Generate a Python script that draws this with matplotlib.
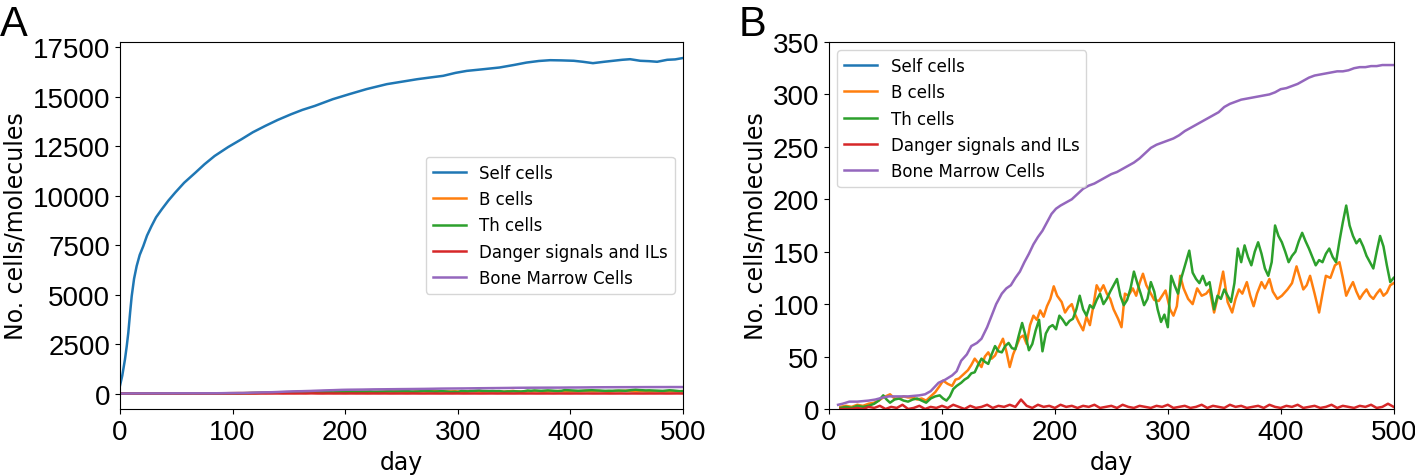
import matplotlib
matplotlib.use('Agg')
import matplotlib.pyplot as plt

# Self cells (only really visible in panel A)
self_days = [0, 2, 4.4, 6, 7.4, 9, 10.4, 12.5, 14.8, 17.5, 20.7, 24, 28, 32, 37, 43, 49,
             57, 67, 75, 84, 96, 108, 118, 129, 140, 152, 162, 173, 189, 204, 219, 237,
             250, 264, 276, 287, 298, 308, 322, 337, 350, 361, 372, 382, 392, 403, 411,
             420, 430, 438, 446, 453, 462, 470, 477, 486, 493, 500]
self_cells = [400, 900, 1720, 2400, 3080, 4100, 4920, 5800, 6440, 7000, 7450, 7980, 8460,
              8900, 9300, 9750, 10150, 10650, 11160, 11580, 12000, 12450, 12850, 13200,
              13520, 13820, 14110, 14330, 14530, 14870, 15130, 15380, 15630, 15750, 15880,
              15970, 16050, 16200, 16300, 16380, 16470, 16600, 16720, 16800, 16840, 16830,
              16810, 16760, 16690, 16760, 16810, 16860, 16890, 16810, 16790, 16760, 16860,
              16880, 16950]

b_days = [10, 15, 20, 25, 30, 35, 40, 44, 48, 54, 58, 62, 66, 70, 74, 78, 82, 86, 90, 94,
          98, 101, 105, 109, 112, 115, 119, 123, 126, 129, 132, 135, 138, 141, 144, 147,
          150, 154, 157, 160, 163, 166, 169, 172, 175, 178, 181, 184, 187, 190, 193, 196,
          199, 202, 206, 209, 212, 215, 218, 221, 225, 228, 231, 234, 237, 240, 243, 246,
          249, 252, 256, 259, 262, 265, 269, 272, 275, 278, 281, 285, 288, 292, 295, 298,
          302, 305, 308, 311, 314, 318, 322, 326, 330, 334, 337, 341, 345, 349, 353, 357,
          360, 363, 366, 370, 373, 376, 379, 383, 386, 390, 393, 397, 401, 406, 410, 414,
          417, 420, 423, 426, 430, 434, 437, 440, 444, 448, 452, 455, 458, 461, 464, 467,
          470, 473, 476, 479, 482, 485, 488, 491, 494, 497, 500]
b_cells = [2, 3, 2, 4, 3, 5, 6, 8, 11, 14, 10, 10, 12, 11, 11, 9, 10, 8, 12, 16,
           22, 27, 24, 22, 28, 29, 33, 37, 42, 48, 44, 40, 50, 54, 48, 51,
           58, 67, 55, 40, 52, 60, 68, 70, 62, 80, 89, 85, 94, 88, 98, 105,
           117, 108, 102, 92, 97, 100, 90, 83, 75, 88, 80, 98, 118, 112, 118, 110,
           105, 95, 86, 78, 110, 108, 115, 108, 120, 129, 118, 110, 104, 103, 108, 113,
           95, 89, 98, 127, 115, 105, 100, 115, 108, 110, 114, 92, 110, 131, 102, 92,
           105, 114, 110, 121, 108, 98, 110, 121, 115, 124, 112, 105, 108, 114, 120, 136,
           125, 114, 118, 127, 110, 92, 110, 127, 125, 137, 140, 125, 108, 115, 121, 112,
           105, 110, 114, 108, 105, 110, 114, 108, 111, 118, 120]

th_days = [10, 15, 20, 25, 30, 35, 40, 44, 48, 51, 54, 58, 62, 66, 70, 74, 78, 82, 86, 90,
           94, 98, 101, 104, 107, 110, 113, 117, 120, 123, 126, 129, 132, 135, 138, 141,
           144, 147, 150, 153, 156, 159, 162, 165, 168, 171, 174, 177, 180, 183, 186, 189,
           192, 195, 198, 201, 204, 207, 210, 213, 216, 219, 222, 225, 228, 231, 234, 237,
           240, 243, 246, 249, 252, 255, 258, 261, 264, 267, 270, 273, 276, 279, 282, 285,
           288, 291, 294, 297, 300, 303, 306, 309, 312, 316, 319, 322, 325, 328, 331, 334,
           337, 341, 344, 347, 350, 353, 356, 359, 362, 365, 368, 371, 374, 377, 380, 383,
           386, 389, 392, 395, 398, 401, 404, 407, 410, 413, 416, 419, 422, 425, 428, 431,
           434, 437, 440, 443, 446, 449, 452, 455, 458, 461, 464, 467, 470, 473, 476, 479,
           482, 485, 488, 491, 494, 497, 500]
th_cells = [1, 2, 1, 3, 2, 3, 5, 8, 13, 9, 6, 9, 10, 8, 7, 9, 10, 8, 6, 10,
            12, 13, 10, 8, 12, 19, 22, 25, 28, 30, 34, 35, 42, 48, 45, 43,
            52, 60, 55, 54, 60, 63, 58, 57, 70, 82, 70, 56, 62, 75, 85, 55,
            72, 78, 80, 76, 89, 85, 80, 84, 86, 95, 108, 95, 89, 99, 96, 104,
            110, 100, 105, 112, 118, 124, 108, 99, 104, 115, 131, 120, 110, 99, 105, 121,
            112, 95, 83, 90, 78, 127, 118, 110, 125, 140, 151, 130, 124, 120, 127, 118,
            121, 95, 108, 105, 114, 108, 102, 120, 153, 140, 156, 145, 137, 150, 159, 148,
            134, 127, 140, 175, 165, 159, 150, 140, 146, 150, 160, 168, 160, 153, 145, 137,
            142, 140, 148, 153, 145, 140, 160, 178, 194, 175, 165, 158, 162, 155, 146, 140,
            134, 150, 165, 155, 137, 121, 125]

danger_days = list(range(10, 505, 5))
danger = [0, 0, 0, 1, 0, 2,
          1, 3, 0, 2, 1, 4, 0, 1, 3, 0, 2, 1,
          3, 1, 4, 2, 0, 3, 1, 2, 4, 1, 3, 2,
          4, 2, 9, 3, 1, 4, 2, 3, 1, 4, 2, 3,
          1, 3, 2, 4, 1, 2, 3, 1, 4, 2, 1, 3,
          2, 1, 3, 2, 4, 1, 2, 3, 1, 2, 4, 1,
          3, 2, 1, 4, 2, 3, 1, 2, 3, 1, 4, 2,
          1, 3, 2, 4, 1, 2, 3, 1, 2, 4, 1, 3,
          2, 1, 3, 2, 4, 1, 2, 5, 2]

bm_days = [8, 12, 18, 25, 35, 41, 48, 53, 60, 70, 80, 85, 90, 97, 103, 109, 113, 117, 122,
           126, 131, 135, 140, 144, 148, 153, 157, 161, 165, 169, 173, 177, 181, 185, 189,
           193, 197, 201, 205, 210, 215, 220, 225, 230, 235, 240, 245, 250, 255, 260, 265,
           270, 275, 280, 285, 290, 295, 300, 305, 310, 315, 320, 325, 330, 335, 340, 345,
           350, 355, 360, 365, 370, 375, 380, 385, 390, 395, 400, 405, 410, 415, 420, 425,
           430, 435, 440, 445, 450, 455, 460, 465, 470, 475, 480, 485, 490, 495, 500]
bone_marrow = [4, 5, 7, 7, 8, 9, 11, 12, 12, 12, 13, 14, 17, 25, 28, 32, 36, 46, 52,
               60, 63, 67, 78, 89, 100, 110, 115, 118, 125, 131, 140, 148, 157, 164, 170,
               178, 186, 191, 194, 197, 200, 205, 210, 213, 215, 218, 221, 224, 226, 229, 232,
               235, 239, 244, 249, 252, 254, 256, 258, 261, 265, 268, 271, 274, 277, 280, 283,
               288, 291, 293, 295, 296, 297, 298, 299, 300, 302, 305, 306, 308, 310, 313, 316,
               318, 319, 320, 321, 322, 322, 323, 325, 326, 326, 327, 327, 328, 328, 328]

labels = ['Self cells', 'B cells', 'Th cells', 'Danger signals and ILs', 'Bone Marrow Cells']

tick_font = 'Liberation Sans'
lw = 1.8


def draw_panel(ax, from_zero=False):
  # in panel A the small populations are drawn from day 0
  lead_d = [0] if from_zero else []
  lead_v = [0] if from_zero else []
  ax.plot(self_days, self_cells, color='C0', lw=lw, label=labels[0])
  ax.plot(lead_d + b_days, lead_v + b_cells, color='C1', lw=lw, label=labels[1])
  ax.plot(lead_d + th_days, lead_v + th_cells, color='C2', lw=lw, label=labels[2])
  ax.plot(lead_d + danger_days, lead_v + danger, color='C3', lw=lw, label=labels[3])
  ax.plot(lead_d + bm_days, lead_v + bone_marrow, color='C4', lw=lw, label=labels[4])
  ax.set_xlim(0, 500)
  ax.set_xticks([0, 100, 200, 300, 400, 500])
  ax.set_xlabel('day', fontsize=17)
  ax.set_ylabel('No. cells/molecules', fontsize=17)
  for lab in ax.get_xticklabels() + ax.get_yticklabels():
    lab.set_fontfamily(tick_font)
    lab.set_fontsize(20)


fig = plt.figure(figsize=(14.15, 4.77), dpi=100)
ax_a = fig.add_axes([0.0848, 0.1405, 0.3979, 0.7694])
ax_b = fig.add_axes([0.5859, 0.1405, 0.3990, 0.7694])

ax_a.set_yticks([0, 2500, 5000, 7500, 10000, 12500, 15000, 17500])
draw_panel(ax_a, from_zero=True)
ax_a.set_ylim(-780, 17760)
ax_a.legend(loc='center right', fontsize=12)

ax_b.set_yticks([0, 50, 100, 150, 200, 250, 300, 350])
draw_panel(ax_b)
ax_b.set_ylim(0, 350)
ax_b.legend(loc='upper left', fontsize=12)

fig.text(0.0, 0.99, 'A', fontsize=30, family=tick_font, ha='left', va='top')
fig.text(0.522, 0.99, 'B', fontsize=30, family=tick_font, ha='left', va='top')

fig.savefig('out.png', dpi=100)
